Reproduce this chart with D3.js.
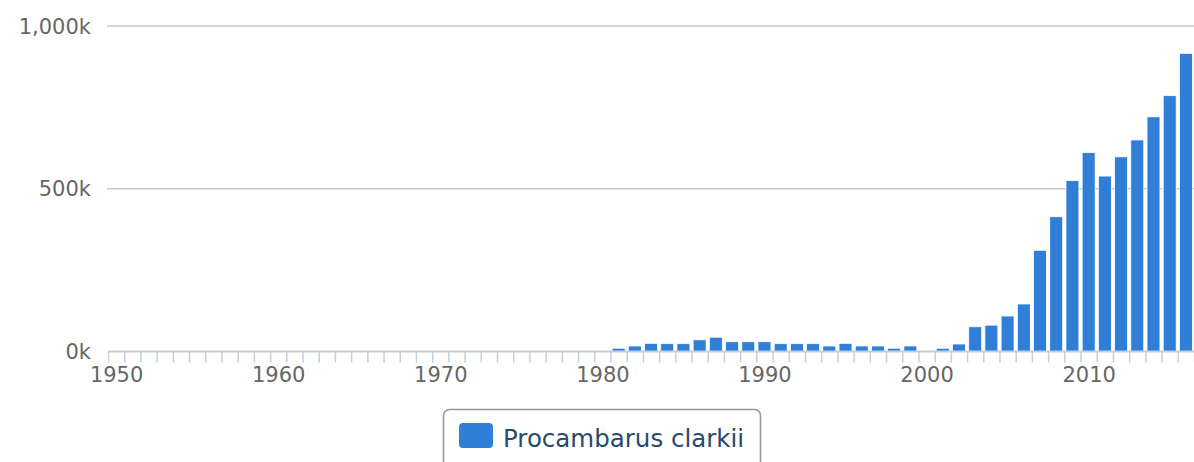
<!DOCTYPE html>
<html>
<head>
<meta charset="utf-8">
<script src="https://cdn.jsdelivr.net/npm/d3@7"></script>
<style>
  html, body { margin: 0; padding: 0; background: #fff; }
  svg { display: block; }
  text { font-family: "DejaVu Sans", Verdana, sans-serif; }
</style>
</head>
<body>
<svg id="chart" width="1194" height="462"></svg>
<script>
// ---- data ----
const years = d3.range(1950, 2017);
const seriesName = "Procambarus clarkii";
// values in thousands, 1950..2016
const valuesK = [
  0,0,0,0,0,0,0,0,0,0,            // 1950-1959
  0,0,0,0,0,0,0,0,0,0,            // 1960-1969
  0,0,0,0,0,0,0,0,0,0,            // 1970-1979
  0,10,17,25,24,24,36,44,30,30,   // 1980-1989
  30,24,24,24,17,25,17,17,10,17,  // 1990-1999
  0,10,23,76,81,109,146,311,414,525, // 2000-2009
  611,539,598,650,721,786,916     // 2010-2016
];
const yTicks = [0, 500000, 1000000];
const yTickLabels = ["0k", "500k", "1,000k"];
const xLabelYears = [1950, 1960, 1970, 1980, 1990, 2000, 2010];

const data = years.map((yr, i) => ({ year: yr, value: valuesK[i] * 1000 }));

// ---- layout ----
const svg = d3.select("#chart");
const plotLeft = 108, plotRight = 1194, plotTop = 26, plotBottom = 351.5;

const x = d3.scaleBand().domain(years).range([plotLeft, plotRight]).paddingInner(0.2).paddingOuter(0.1);
const xLin = d3.scaleLinear().domain([1949.5, 2016.5]).range([plotLeft, plotRight]);
const y = d3.scaleLinear().domain([0, 1000000]).range([plotBottom, plotTop]);

// gridlines
svg.append("g").selectAll("line").data(yTicks.filter(d => d > 0)).join("line")
  .attr("x1", plotLeft - 1).attr("x2", plotRight)
  .attr("y1", d => y(d)).attr("y2", d => y(d))
  .attr("stroke", "#c8c8c8").attr("stroke-width", 1.5);

// y labels
svg.append("g").selectAll("text").data(yTicks).join("text")
  .attr("x", 91).attr("y", d => y(d))
  .attr("dy", "0.36em")
  .attr("text-anchor", "end")
  .attr("font-size", 21).attr("fill", "#666")
  .text((d, i) => yTickLabels[i]);

// bars
svg.append("g").selectAll("rect").data(data.filter(d => d.value > 0)).join("rect")
  .attr("x", d => x(d.year))
  .attr("width", x.bandwidth())
  .attr("y", d => y(d.value))
  .attr("height", d => y(0) - y(d.value))
  .attr("fill", "#2f7ed8")
  .attr("stroke", "#ffffff").attr("stroke-width", 0.8);

// x axis tick marks at category boundaries
const tickAxis = d3.axisBottom(xLin)
  .tickValues(d3.range(1949.5, 2017, 1))
  .tickSize(11).tickFormat("");
const gT = svg.append("g").attr("transform", `translate(0,${plotBottom})`).call(tickAxis);
gT.select(".domain").remove();
gT.selectAll(".tick line").attr("stroke", "#c0d0e0").attr("stroke-width", 1.5);

// axis line
svg.append("line").attr("x1", plotLeft).attr("x2", plotRight)
  .attr("y1", plotBottom).attr("y2", plotBottom)
  .attr("stroke", "#c0d0e0").attr("stroke-width", 2);

// x labels
const labelAxis = d3.axisBottom(xLin).tickValues(xLabelYears).tickSize(0).tickFormat(d3.format("d"));
const gL = svg.append("g").attr("transform", `translate(0,${plotBottom})`).call(labelAxis);
gL.select(".domain").remove();
gL.selectAll("text").attr("font-size", 21).attr("fill", "#666")
  .attr("font-family", "DejaVu Sans, Verdana, sans-serif")
  .attr("y", 30).attr("dy", 0);

// legend
const lg = svg.append("g");
lg.append("rect").attr("x", 443.5).attr("y", 409.5).attr("width", 317).attr("height", 70)
  .attr("rx", 6).attr("fill", "#fff").attr("stroke", "#999").attr("stroke-width", 1.6);
lg.append("rect").attr("x", 459).attr("y", 423).attr("width", 34).attr("height", 25)
  .attr("rx", 4).attr("fill", "#2f7ed8");
lg.append("text").attr("x", 503).attr("y", 447).attr("font-size", 24.5)
  .attr("fill", "#274b6d").text(seriesName);
</script>
</body>
</html>
